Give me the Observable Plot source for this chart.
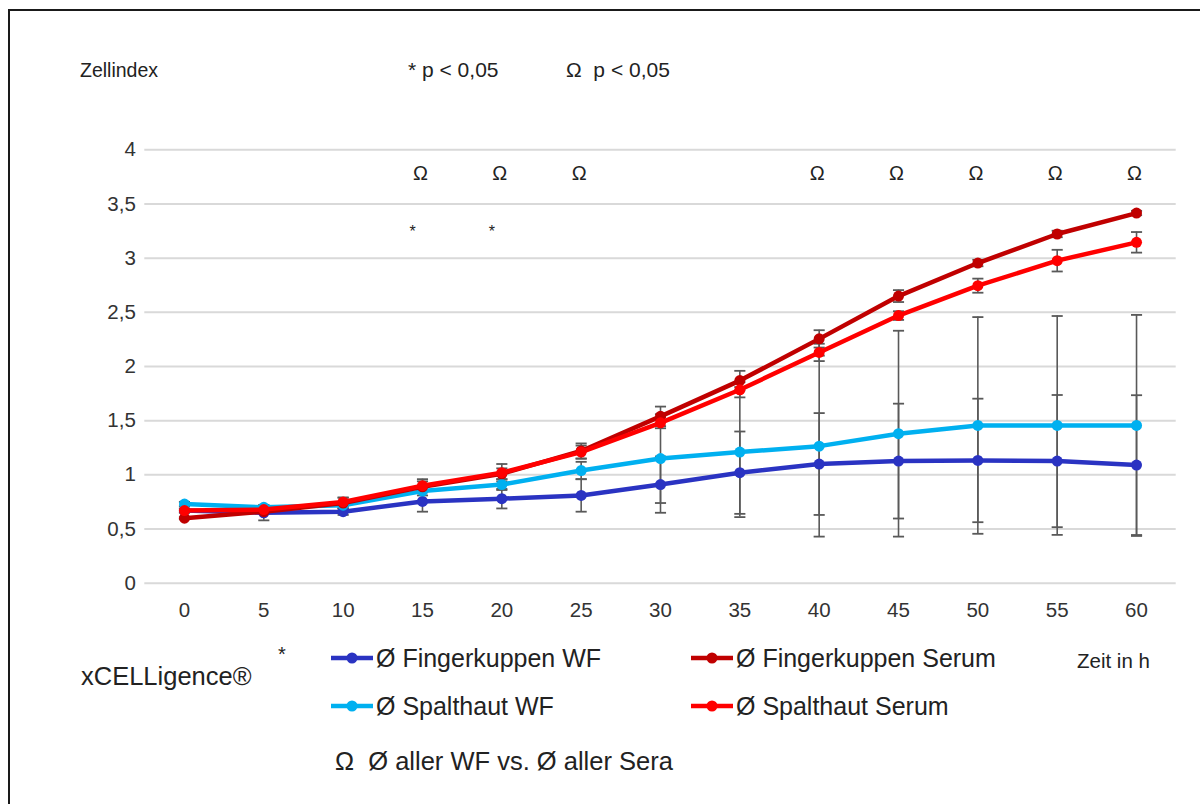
<!DOCTYPE html>
<html>
<head>
<meta charset="utf-8">
<script src="https://cdn.jsdelivr.net/npm/d3@7"></script>
<script src="https://cdn.jsdelivr.net/npm/@observablehq/plot@0.6"></script>
<style>
  html, body { margin: 0; padding: 0; background: #fff; }
  #page { position: relative; width: 1200px; height: 804px; overflow: hidden; font-family: "Liberation Sans", Arial, sans-serif; color: #222; }
  #chart { position: absolute; left: 0; top: 0; }
  .frame-top { position: absolute; left: 8px; top: 9px; width: 1192px; height: 2px; background: #1a1a1a; }
  .frame-left { position: absolute; left: 8px; top: 9px; width: 2px; height: 795px; background: #1a1a1a; }
  .t { position: absolute; white-space: pre; line-height: 1; }
  .leg { position: absolute; display: flex; align-items: center; height: 30px; font-size: 25px; white-space: pre; }
  .leg svg { margin-right: 2px; }
</style>
</head>
<body>
<div id="page">
  <div id="chart"></div>
  <div class="frame-top"></div>
  <div class="frame-left"></div>
  <div class="t" style="left:80px; top:61px; font-size:19.5px;">Zellindex</div>
  <div class="t" style="left:408px; top:59px; font-size:21px;">* p &lt; 0,05</div>
  <div class="t" style="left:566px; top:59px; font-size:21px;">Ω  p &lt; 0,05</div>
  <div class="t" style="left:278px; top:644px; font-size:20px;">*</div>
  <div class="t" style="left:81px; top:664px; font-size:25.5px;">xCELLigence®</div>
  <div class="t" style="left:1077px; top:651px; font-size:20.5px;">Zeit in h</div>
  <div class="t" style="left:335px; top:749px; font-size:25.5px;">Ω  Ø aller WF vs. Ø aller Sera</div>
  <div id="legend"></div>
</div>
<script>
// ---- data ----
const times = [0, 5, 10, 15, 20, 25, 30, 35, 40, 45, 50, 55, 60];

const seriesNames = ["Ø Fingerkuppen WF", "Ø Spalthaut WF", "Ø Fingerkuppen Serum", "Ø Spalthaut Serum"];
const seriesColors = ["#2a33c2", "#00b0f0", "#c00000", "#ff0000"];

const fingerWF     = [0.67, 0.65, 0.66, 0.755, 0.78, 0.81, 0.91, 1.02, 1.10, 1.127, 1.133, 1.127, 1.09];
const fingerWFsd   = [0.02, 0.07, 0.03, 0.095, 0.09, 0.15, 0.26, 0.38, 0.47, 0.53, 0.57, 0.61, 0.645];
const spaltWF      = [0.73, 0.70, 0.72, 0.85, 0.91, 1.04, 1.15, 1.21, 1.265, 1.38, 1.456, 1.456, 1.456];
const spaltWFsd    = [0.02, 0.02, 0.03, 0.04, 0.05, 0.08, 0.41, 0.60, 0.835, 0.95, 1.00, 1.01, 1.02];
const fingerSerum  = [0.60, 0.66, 0.74, 0.89, 1.01, 1.22, 1.54, 1.87, 2.255, 2.65, 2.955, 3.223, 3.416];
const fingerSerumSd= [0.01, 0.02, 0.05, 0.05, 0.05, 0.07, 0.09, 0.09, 0.08, 0.055, 0.03, 0.03, 0.02];
const spaltSerum   = [0.67, 0.68, 0.75, 0.90, 1.02, 1.21, 1.48, 1.785, 2.13, 2.47, 2.746, 2.977, 3.146];
const spaltSerumSd = [0.01, 0.02, 0.04, 0.06, 0.08, 0.06, 0.05, 0.07, 0.08, 0.04, 0.065, 0.10, 0.095];

const omegaTimes = [15, 20, 25, 40, 45, 50, 55, 60];
const starTimes = [15, 20];
const yTicks = [0, 0.5, 1, 1.5, 2, 2.5, 3, 3.5, 4];

// ---- build table ----
const means = [fingerWF, spaltWF, fingerSerum, spaltSerum];
const sds = [fingerWFsd, spaltWFsd, fingerSerumSd, spaltSerumSd];
const rows = [];
seriesNames.forEach((s, k) => {
  times.forEach((t, i) => rows.push({series: s, t, v: means[k][i], sd: sds[k][i]}));
});

const omegaY = 3.78;
const starY = 3.24;
const capHalf = 0.35;

const chart = Plot.plot({
  width: 1200,
  height: 640,
  marginLeft: 144.3,
  marginRight: 24.3,
  marginTop: 149.3,
  marginBottom: 57.3,
  style: {fontFamily: "'Liberation Sans', Arial, sans-serif", fontSize: "20px", color: "#333", background: "transparent"},
  x: {domain: [-2.5, 62.5]},
  y: {domain: [0, 4]},
  color: {domain: seriesNames, range: seriesColors},
  marks: [
    Plot.gridY(yTicks, {stroke: "#d9d9d9", strokeOpacity: 1, strokeWidth: 2}),
    Plot.axisY(yTicks, {tickSize: 0, tickPadding: 9, label: null, fontSize: 20.5,
      tickFormat: d => String(d).replace(".", ",")}),
    Plot.axisX(times, {tickSize: 0, tickPadding: 19, label: null, fontSize: 20.5, tickFormat: d => String(d)}),
    Plot.ruleX(rows, {x: "t", y1: d => d.v - d.sd, y2: d => d.v + d.sd, stroke: "#595959", strokeWidth: 1.6}),
    Plot.link(rows, {x1: d => d.t - capHalf, x2: d => d.t + capHalf, y1: d => d.v + d.sd, y2: d => d.v + d.sd, stroke: "#595959", strokeWidth: 1.8}),
    Plot.link(rows, {x1: d => d.t - capHalf, x2: d => d.t + capHalf, y1: d => d.v - d.sd, y2: d => d.v - d.sd, stroke: "#595959", strokeWidth: 1.8}),
    ...seriesNames.flatMap((s, k) => {
      const data = rows.filter(r => r.series === s);
      return [
        Plot.line(data, {x: "t", y: "v", stroke: seriesColors[k], strokeWidth: 4.5, strokeLinejoin: "round"}),
        Plot.dot(data, {x: "t", y: "v", r: 5.5, fill: seriesColors[k], stroke: "none"})
      ];
    }),
    Plot.text(omegaTimes, {x: d => d, y: () => omegaY, text: () => "Ω", fontSize: 20, fill: "#222", dx: -2}),
    Plot.text(starTimes, {x: d => d, y: () => starY, text: () => "*", fontSize: 16, fill: "#222", dx: -10})
  ]
});
document.getElementById("chart").appendChild(chart);

// ---- legend ----
const legendPos = [
  {left: 330, top: 643},
  {left: 330, top: 691},
  {left: 690, top: 643},
  {left: 690, top: 691}
];
const legend = document.getElementById("legend");
seriesNames.forEach((s, k) => {
  const item = document.createElement("div");
  item.className = "leg";
  item.style.left = legendPos[k].left + "px";
  item.style.top = legendPos[k].top + "px";
  item.innerHTML = `<svg width="44" height="14"><line x1="1" y1="7" x2="43" y2="7" stroke="${seriesColors[k]}" stroke-width="4.5"/><circle cx="22" cy="7" r="5.5" fill="${seriesColors[k]}"/></svg><span>${s}</span>`;
  legend.appendChild(item);
});
</script>
</body>
</html>
